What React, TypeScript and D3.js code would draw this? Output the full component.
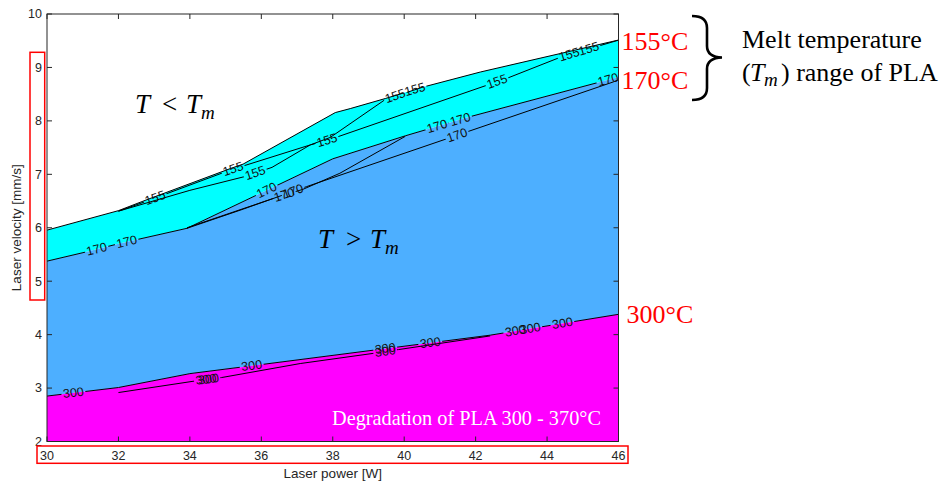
import React from 'react';
import * as d3 from 'd3';

type Pt = [number, number];

// axis ticks
const xTicks = [30, 32, 34, 36, 38, 40, 42, 44, 46];
const yTicks = [2, 3, 4, 5, 6, 7, 8, 9, 10];

// contour lines (laser power W, laser velocity mm/s)
const c155Edge: Pt[] = [[30, 5.955], [32, 6.32], [32.8, 6.526], [35.13, 7.107], [35.49, 7.191], [38.07, 8.155], [38.49, 8.23], [39.47, 8.418], [40.53, 8.633], [42.13, 8.914], [44.37, 9.26], [46, 9.513]];
const c155Mid: Pt[] = [[32, 6.31], [32.8, 6.5], [35.13, 7.08], [35.49, 7.155], [37.37, 7.55], [37.87, 7.64], [42.89, 8.8], [44.37, 9.19], [44.93, 9.3], [46, 9.51]];
const c155Low: Pt[] = [[32, 6.31], [34.0, 6.7], [35.55, 6.96], [36.3, 7.13], [37.37, 7.55]];
const c155Steep: Pt[] = [[37.37, 7.55], [37.93, 7.69], [39.47, 8.4], [40.53, 8.633]];
const c170Edge: Pt[] = [[30, 5.375], [31.11, 5.55], [32, 5.7], [33.92, 5.99], [38.0, 7.29], [40.03, 7.72], [41.85, 8.08], [46, 8.82]];
const c170Mid: Pt[] = [[33.92, 6.0], [36.43, 6.57], [37.17, 6.72], [38.2, 7.02], [40.03, 7.71]];
const c170Low: Pt[] = [[33.92, 5.99], [35.5, 6.35], [37.27, 6.77], [45.86, 8.73], [46, 8.77]];
const c300Edge: Pt[] = [[30, 2.85], [32, 3.01], [34, 3.27], [36, 3.44], [42.41, 3.99], [46, 4.38]];
const c300Low: Pt[] = [[32, 2.916], [34.15, 3.133], [34.89, 3.197], [37.09, 3.459], [39.1, 3.646], [39.84, 3.72], [42.41, 3.976]];

// label positions (laser power) along each contour
const lbl155Edge = [40.3];
const lbl155Mid = [33.03, 35.21, 37.84, 42.6, 44.62, 45.17];
const lbl155Low = [35.83];
const lbl155Steep = [39.75];
const lbl170Edge = [31.39, 32.23, 36.15, 40.92, 41.57, 45.71];
const lbl170Mid = [36.64];
const lbl170Low = [36.89, 41.48];
const lbl300Edge = [30.74, 35.73, 39.47, 40.73, 43.11, 43.53, 44.43];
const lbl300Low = [34.45, 34.52, 39.47];

const contours = [
  { id: 'a', pts: c155Edge, level: '155', labels: lbl155Edge },
  { id: 'b', pts: c155Mid, level: '155', labels: lbl155Mid },
  { id: 'c', pts: c155Low, level: '155', labels: lbl155Low },
  { id: 'd', pts: c155Steep, level: '155', labels: lbl155Steep },
  { id: 'e', pts: c170Edge, level: '170', labels: lbl170Edge },
  { id: 'f', pts: c170Mid, level: '170', labels: lbl170Mid },
  { id: 'g', pts: c170Low, level: '170', labels: lbl170Low },
  { id: 'h', pts: c300Edge, level: '300', labels: lbl300Edge },
  { id: 'i', pts: c300Low, level: '300', labels: lbl300Low },
];

const x = d3.scaleLinear().domain([30, 46]).range([47, 618.5]);
const y = d3.scaleLinear().domain([2, 10]).range([441.5, 14]);
const line = d3.line<Pt>().x((d) => x(d[0])).y((d) => y(d[1]));

function interp(pts: Pt[], w: number): number {
  if (w <= pts[0][0]) return pts[0][1];
  for (let i = 1; i < pts.length; i++) {
    if (w <= pts[i][0]) {
      const [x0, y0] = pts[i - 1];
      const [x1, y1] = pts[i];
      return y0 + ((w - x0) / (x1 - x0)) * (y1 - y0);
    }
  }
  return pts[pts.length - 1][1];
}

function pose(pts: Pt[], w: number) {
  const d = 0.3;
  const wa = Math.max(pts[0][0], w - d);
  const wb = Math.min(pts[pts.length - 1][0], w + d);
  const ax = x(wa), ay = y(interp(pts, wa));
  const bx = x(wb), by = y(interp(pts, wb));
  const ang = (Math.atan2(by - ay, bx - ax) * 180) / Math.PI;
  return { px: x(w), py: y(interp(pts, w)), ang };
}

const AX = '#262626';
const SANS = '"Liberation Sans", Arial, Helvetica, sans-serif';
const SERIF = '"Liberation Serif", "Times New Roman", serif';

export default function App() {
  const cyanPath = line([...c155Edge, ...[...c170Edge].reverse()]) + 'Z';
  const bluePath = line([...c170Edge, ...[...c300Edge].reverse()]) + 'Z';
  const magPath = line([...c300Edge, [46, 2], [30, 2]] as Pt[]) + 'Z';
  const x0 = x(30), x1 = x(46), y0 = y(2), y1 = y(10);

  return (
    <svg width={949} height={482} style={{ position: 'absolute', left: 0, top: 0, background: '#fff' }}>
      <defs>
        {contours.map((c) => (
          <mask id={'m' + c.id} key={c.id} maskUnits="userSpaceOnUse" x={0} y={0} width={949} height={482}>
            <rect x={0} y={0} width={949} height={482} fill="#fff" />
            {c.labels.map((w, i) => {
              const p = pose(c.pts, w);
              return (
                <rect key={i} x={-12} y={-5} width={24} height={10} fill="#000"
                  transform={`translate(${p.px},${p.py}) rotate(${p.ang})`} />
              );
            })}
          </mask>
        ))}
      </defs>

      {/* filled regions */}
      <path d={cyanPath} fill="#00ffff" />
      <path d={bluePath} fill="#4dafff" />
      <path d={magPath} fill="#ff00ff" />

      {/* contour lines */}
      {contours.map((c) => (
        <path key={c.id} d={line(c.pts) || ''} fill="none" stroke="#000" strokeWidth={1} mask={`url(#m${c.id})`} />
      ))}
      {contours.map((c) =>
        c.labels.map((w, i) => {
          const p = pose(c.pts, w);
          return (
            <text key={c.id + i} transform={`translate(${p.px},${p.py}) rotate(${p.ang})`}
              textAnchor="middle" dominantBaseline="central" fontFamily={SANS} fontSize={12.5} fill="#111">
              {c.level}
            </text>
          );
        })
      )}

      {/* axes box */}
      <rect x={x0} y={y1} width={x1 - x0} height={y0 - y1} fill="none" stroke={AX} strokeWidth={1} />
      {xTicks.map((t) => (
        <g key={'x' + t}>
          <line x1={x(t)} x2={x(t)} y1={y0} y2={y0 - 5} stroke={AX} />
          <line x1={x(t)} x2={x(t)} y1={y1} y2={y1 + 5} stroke={AX} />
          <text x={x(t)} y={y0 + 18.5} textAnchor="middle" fontFamily={SANS} fontSize={12.5} fill={AX}>{t}</text>
        </g>
      ))}
      {yTicks.map((t) => (
        <g key={'y' + t}>
          <line x1={x0} x2={x0 + 5} y1={y(t)} y2={y(t)} stroke={AX} />
          <line x1={x1} x2={x1 - 5} y1={y(t)} y2={y(t)} stroke={AX} />
          <text x={42} y={y(t)} dy="0.35em" textAnchor="end" fontFamily={SANS} fontSize={12.5} fill={AX}>{t}</text>
        </g>
      ))}
      <text x={(x0 + x1) / 2} y={478} textAnchor="middle" fontFamily={SANS} fontSize={13.5} fill={AX}>Laser power [W]</text>
      <text transform={`translate(21,${(y0 + y1) / 2}) rotate(-90)`} textAnchor="middle" fontFamily={SANS} fontSize={13.5} fill={AX}>Laser velocity [mm/s]</text>

      {/* red highlight boxes */}
      <rect x={30} y={52.3} width={14.7} height={247.7} fill="none" stroke="#ff0000" strokeWidth={1.5} />
      <rect x={37} y={446} width={591} height={17.3} fill="none" stroke="#ff0000" strokeWidth={1.5} />

      {/* math annotations */}
      <g fontFamily={SERIF} fill="#000">
        <text x={135} y={113} fontSize={27} fontStyle="italic">T</text>
        <text x={162} y={113} fontSize={27}>&lt;</text>
        <text x={186} y={113} fontSize={27} fontStyle="italic">T</text>
        <text x={201} y={119} fontSize={19} fontStyle="italic">m</text>

        <text x={318} y={248} fontSize={27} fontStyle="italic">T</text>
        <text x={346} y={248} fontSize={27}>&gt;</text>
        <text x={370} y={248} fontSize={27} fontStyle="italic">T</text>
        <text x={385} y={254} fontSize={19} fontStyle="italic">m</text>
      </g>

      <text x={332} y={425} fontFamily={SERIF} fontSize={20.3} fill="#fff">Degradation of PLA 300 - 370°C</text>

      {/* right side labels */}
      <g fontFamily={SERIF} fontSize={26} fill="#ff0000">
        <text x={621.5} y={50}>155°C</text>
        <text x={621.5} y={89}>170°C</text>
        <text x={626.5} y={323}>300°C</text>
      </g>
      <path d="M692,16 Q707,16 707,28 L707,46 Q707,57 722,57.5 Q707,58 707,69 L707,88 Q707,100 692,100"
        fill="none" stroke="#000" strokeWidth={2.6} />
      <g fontFamily={SERIF} fontSize={26} fill="#000">
        <text x={742} y={47.5}>Melt temperature</text>
        <text x={742} y={80.5}>(</text>
        <text x={750} y={80.5} fontStyle="italic">T</text>
        <text x={764} y={86} fontSize={19} fontStyle="italic">m</text>
        <text x={781} y={80.5}>) range of PLA</text>
      </g>
    </svg>
  );
}
